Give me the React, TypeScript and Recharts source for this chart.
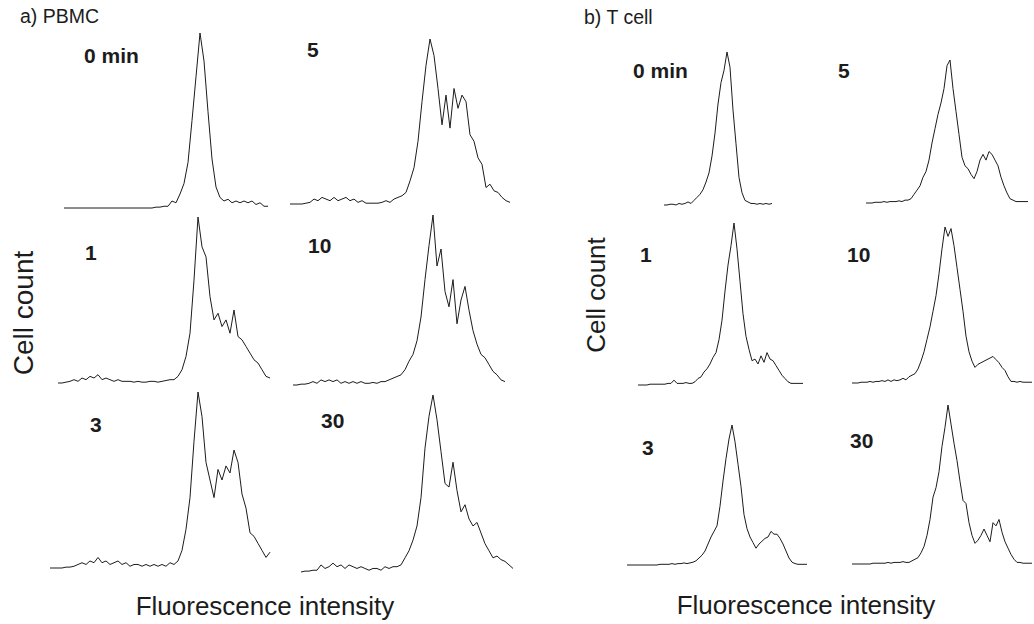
import { LineChart, Line, XAxis, YAxis } from 'recharts';

// relative cell counts per fluorescence channel bin (peak = 100)
const pbmc0 = [
  0, 0, 0, 0, 0, 0, 0, 0, 0, 0, 0, 0, 0, 0, 0, 0, 0, 0, 0, 0, 0, 0, 0,
  0.5, 0.5, 1, 1, 4, 3, 8, 14, 26, 50, 75, 100, 84, 55, 28, 12, 6, 4, 5, 3, 4, 3, 4, 3, 4, 2, 3, 1, 1,
];
const pbmc1 = [
  0, 0, 0.5, 1, 2, 1, 3, 2, 4, 3, 5, 2, 3, 2, 1, 2, 1, 1, 1, 0.5, 1, 0.5, 0.5, 1, 1, 0.5, 1, 1.5, 2, 2,
  4, 8, 16, 30, 62, 100, 82, 76, 52, 38, 42, 34, 38, 30, 44, 28, 26, 22, 18, 14, 12, 8, 4, 3,
];
const pbmc3 = [
  0, 0, 0, 0, 0.5, 0.5, 1, 2, 3, 2, 4, 3, 6, 3, 4, 2, 3, 4, 2, 3, 1, 2, 2, 1, 2, 1, 2, 1, 2, 1, 3, 2,
  4, 10, 22, 40, 72, 100, 86, 60, 50, 40, 56, 50, 58, 54, 67, 60, 42, 34, 20, 18, 14, 10, 6, 9,
];
const pbmc5 = [
  0, 0, 0, 0, 0.5, 1, 3, 2, 4, 3, 2, 4, 2, 3, 4, 2, 3, 1, 2, 0.5, 0.5, 0.5, 0.5, 1, 2, 1, 3, 4, 5, 7,
  14, 22, 38, 62, 84, 100, 90, 70, 48, 66, 46, 70, 58, 66, 62, 42, 38, 28, 24, 10, 12, 8, 7, 4, 2, 1,
];
const pbmc10 = [
  0, 0, 0.5, 0.5, 1, 2, 1, 3, 2, 3, 2, 3, 1, 2, 1, 2, 1, 2, 1, 1, 1.5, 1, 2, 2, 3, 4, 5, 6, 9, 14,
  18, 26, 40, 62, 82, 100, 70, 80, 55, 46, 62, 36, 50, 58, 44, 32, 24, 18, 16, 12, 8, 6, 3, 2,
];
const pbmc30 = [
  0, 0.5, 0.5, 1, 1, 4, 2, 3, 5, 3, 4, 2, 4, 3, 2, 3, 2, 1, 2, 2, 1, 3, 2, 3, 3, 4, 8, 12, 18, 26,
  42, 70, 88, 100, 86, 68, 50, 48, 62, 46, 34, 38, 30, 26, 28, 22, 16, 12, 8, 9, 7, 6, 4, 2,
];

const tcell0 = [
  0, 0, 0.5, 0.5, 0, 1, 0.5, 1, 2, 1, 3, 5, 7, 10, 15, 21, 32, 47, 66, 80, 88, 100, 90, 62, 40, 18, 8,
  3, 2, 1, 1, 0.5, 1, 0.5, 1, 0.5, 1,
];
const tcell1 = [
  0, 0, 0, 0, 0.5, 0.5, 0.5, 0.5, 0.5, 0.5, 1, 1, 3, 1, 1, 1, 1.5, 1, 1, 2, 4, 5, 8, 10, 13, 17, 20, 28,
  40, 58, 74, 86, 100, 84, 64, 44, 30, 22, 15, 16, 13, 18, 14, 20, 16, 15, 12, 9, 6, 4, 2, 1, 1, 1, 1, 1,
];
const tcell3 = [
  0, 0, 0, 0, 0, 0, 0, 0, 0, 0, 0, 0.5, 0.5, 0.5, 0.5, 1, 0.5, 1, 1, 1.5, 1, 1.5, 2, 3, 5, 7, 10, 15,
  20, 24, 28, 42, 60, 76, 90, 100, 88, 72, 56, 36, 26, 20, 16, 12, 15, 17, 19, 20, 24, 22, 22, 19, 15,
  10, 5, 2, 1, 0.5, 0.5, 0.5, 0.5,
];
const tcell5 = [
  0, 0, 0, 0.5, 0.5, 0.5, 1, 0.5, 1, 1, 1, 1.5, 1, 2, 2, 3, 6, 9, 12, 18, 22, 30, 42, 52, 62, 70, 80,
  96, 100, 80, 64, 48, 32, 26, 24, 20, 17, 22, 30, 34, 30, 36, 34, 30, 26, 18, 12, 7, 3, 2, 1, 1, 1, 1, 1,
];
const tcell10 = [
  0, 0, 0, 0.5, 0.5, 0.5, 1, 0.5, 1, 1, 1.5, 1, 2, 1, 2, 1.5, 2, 3, 2, 4, 5, 6, 9, 14, 20, 28, 36, 46,
  56, 70, 86, 100, 94, 99, 88, 74, 60, 46, 30, 20, 14, 10, 12, 13, 14, 15, 16, 17, 15, 13, 10, 8, 4, 1,
  1, 0.5, 1, 0.5, 0.5, 0.5, 0.5,
];
const tcell30 = [
  0, 0, 0, 0, 0, 0, 0, 0.5, 0.5, 0.5, 0.5, 0.5, 1, 0.5, 1, 1, 1, 1.5, 1, 1, 2, 3, 4, 7, 11, 18, 28, 42,
  48, 58, 74, 86, 100, 88, 76, 65, 52, 40, 38, 26, 18, 13, 15, 18, 22, 18, 14, 26, 24, 28, 20, 14, 10,
  6, 3, 1, 1, 0.5, 0.5, 0.5, 0.5,
];

// layout of the twelve histograms (pixel positions on the page)
const panels = [
  { label: '0 min', counts: pbmc0, x0: 64, step: 4, base: 208, top: 33, lx: 84, ly: 63 },
  { label: '5', counts: pbmc5, x0: 290, step: 4, base: 204, top: 39, lx: 307, ly: 57 },
  { label: '1', counts: pbmc1, x0: 58, step: 4, base: 383, top: 217, lx: 85, ly: 260 },
  { label: '10', counts: pbmc10, x0: 293, step: 4, base: 385, top: 215, lx: 308, ly: 253 },
  { label: '3', counts: pbmc3, x0: 50, step: 4, base: 568, top: 392, lx: 90, ly: 432 },
  { label: '30', counts: pbmc30, x0: 301, step: 4, base: 572, top: 395, lx: 321, ly: 428 },
  { label: '0 min', counts: tcell0, x0: 664, step: 3, base: 205, top: 52, lx: 633, ly: 78 },
  { label: '5', counts: tcell5, x0: 866, step: 3, base: 203, top: 60, lx: 838, ly: 78 },
  { label: '1', counts: tcell1, x0: 638, step: 3, base: 385, top: 223, lx: 640, ly: 262 },
  { label: '10', counts: tcell10, x0: 852, step: 3, base: 383, top: 227, lx: 847, ly: 262 },
  { label: '3', counts: tcell3, x0: 627, step: 3, base: 565, top: 425, lx: 642, ly: 455 },
  { label: '30', counts: tcell30, x0: 852, step: 3, base: 564, top: 405, lx: 850, ly: 448 },
];

const FONT = '"Liberation Sans", Arial, sans-serif';
const INK = '#1c1c1c';

function Histogram({ counts, x0, step, base, top }: { counts: number[]; x0: number; step: number; base: number; top: number }) {
  const data = counts.map((c, i) => ({ ch: i, count: c }));
  const w = (counts.length - 1) * step;
  const h = base - top;
  return (
    <div style={{ position: 'absolute', left: x0 - 2, top: top - 2 }}>
      <LineChart width={w + 4} height={h + 4} data={data} margin={{ top: 2, right: 2, bottom: 2, left: 2 }}>
        <XAxis dataKey="ch" type="number" domain={[0, counts.length - 1]} hide />
        <YAxis domain={[0, 100]} hide />
        <Line type="linear" dataKey="count" stroke={INK} strokeWidth={1} dot={false} isAnimationActive={false} />
      </LineChart>
    </div>
  );
}

export default function App() {
  return (
    <div style={{ position: 'absolute', left: 0, top: 0, width: 1034, height: 624, background: '#fff', overflow: 'hidden' }}>
      {panels.map((p, i) => (
        <Histogram key={i} counts={p.counts} x0={p.x0} step={p.step} base={p.base} top={p.top} />
      ))}
      <svg width={1034} height={624} style={{ position: 'absolute', left: 0, top: 0, pointerEvents: 'none' }}>
        <g fontFamily={FONT} fill={INK}>
          <text x={20} y={23} fontSize={19.5}>a) PBMC</text>
          <text x={584} y={24} fontSize={19.5}>b) T cell</text>
          {panels.map((p, i) => (
            <text key={i} x={p.lx} y={p.ly} fontSize={21} fontWeight="bold">{p.label}</text>
          ))}
          <text transform="translate(33,313) rotate(-90)" textAnchor="middle" fontSize={28}>Cell count</text>
          <text transform="translate(605,295) rotate(-90)" textAnchor="middle" fontSize={26}>Cell count</text>
          <text x={265} y={615} textAnchor="middle" fontSize={26}>Fluorescence intensity</text>
          <text x={806} y={614} textAnchor="middle" fontSize={26}>Fluorescence intensity</text>
        </g>
      </svg>
    </div>
  );
}
